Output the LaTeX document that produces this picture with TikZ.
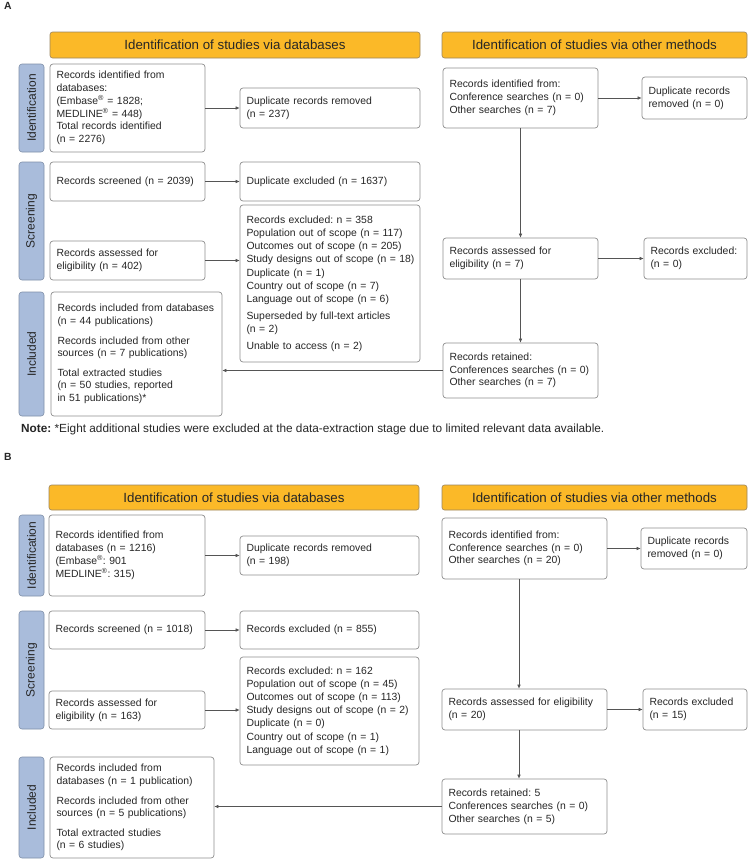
\documentclass[tikz,border=0pt]{standalone}
\usepackage{fontspec}
\setmainfont{Liberation Sans}
\usetikzlibrary{arrows.meta,calc}
\definecolor{hdr}{HTML}{FBB928}
\definecolor{hdrline}{HTML}{9A8460}
\definecolor{tabfill}{HTML}{A9BCDB}
\definecolor{tabline}{HTML}{7F8FA8}
\definecolor{boxline}{HTML}{8E8E8E}
\definecolor{arr}{HTML}{555555}
\definecolor{txt}{HTML}{262626}
\newcommand\pbox[7][]{%
 \pgfmathsetmacro\bw{#5-#3}\pgfmathsetmacro\bh{#6-#4}\pgfmathsetmacro\tw{#5-#3-13}%
 \node[rec,#1,minimum width=\bw pt,minimum height=\bh pt,text width=\tw pt] (#2) at ({(#3+#5)/2},{(#4+#6)/2}) {#7};}
\newcommand\phdr[6]{%
 \pgfmathsetmacro\bw{#4-#2}\pgfmathsetmacro\bh{#5-#3}%
 \node[hdrst,minimum width=\bw pt,minimum height=\bh pt] (#1) at ({(#2+#4)/2},{(#3+#5)/2}) {#6};}
\newcommand\ptab[6]{%
 \pgfmathsetmacro\bw{#4-#2}\pgfmathsetmacro\bh{#5-#3}%
 \node[tabst,rotate=90,minimum width=\bh pt,minimum height=\bw pt] (#1) at ({(#2+#4)/2},{(#3+#5)/2}) {#6};}
\newcommand\reg{\textsuperscript{\textregistered}}
\frenchspacing
\begin{document}
\begin{tikzpicture}[x=1pt,y=-1pt,
  rec/.style={draw=boxline,line width=0.7pt,rounded corners=3pt,fill=white,align=left,inner sep=2pt,text=txt,
    font=\fontsize{10.4}{12.8}\selectfont},
  hdrst/.style={draw=hdrline,line width=0.6pt,rounded corners=2.5pt,fill=hdr,inner sep=0pt,text=txt,
    font=\fontsize{13.3}{15}\selectfont},
  tabst/.style={draw=tabline,line width=0.6pt,rounded corners=3pt,fill=tabfill,inner sep=0pt,text=txt,
    font=\fontsize{12}{14}\selectfont},
  conn/.style={draw=arr,line width=0.6pt},
  arrow/.style={conn,-{Latex[length=4pt,width=3.6pt]}},
  lbl/.style={font=\bfseries\fontsize{10.4}{12}\selectfont,text=txt,inner sep=0pt}]
\useasboundingbox (0,0) rectangle (753,862);
% ---------------- Panel A
\node[lbl] (labA) at (8,6) {A};
\phdr{hAL}{50}{32}{420}{58}{Identification of studies via databases}
\phdr{hAR}{442}{32}{747}{58}{Identification of studies via other methods}
\ptab{tA1}{19}{64}{44}{152}{Identification}
\ptab{tA2}{19}{162}{44}{280}{Screening}
\ptab{tA3}{19}{292}{44}{416}{Included}
\pbox{a1}{50}{64}{205}{152}{Records identified from\\ databases:\\ (Embase\reg{} = 1828;\\ MEDLINE\reg{} = 448)\\ Total records identified\\ (n = 2276)}
\pbox{a2}{240}{88}{420}{128}{Duplicate records removed\\ (n = 237)}
\pbox{a3}{50}{162}{205}{201}{Records screened (n = 2039)}
\pbox{a4}{240}{162}{420}{201}{Duplicate excluded (n = 1637)}
\pbox{a5}{50}{241}{205}{280}{Records assessed for\\ eligibility (n = 402)}
\pbox[font=\fontsize{10.4}{13.2}\selectfont]{a6}{240}{205}{420}{362}{Records excluded: n = 358\\ Population out of scope (n = 117)\\ Outcomes out of scope (n = 205)\\ \mbox{Study designs out of scope (n = 18)}\\ Duplicate (n = 1)\\ Country out of scope (n = 7)\\ Language out of scope (n = 6)\\[3.5pt] Superseded by full-text articles\\ (n = 2)\\[3.5pt] Unable to access (n = 2)}
\pbox[font=\fontsize{10.4}{12.4}\selectfont]{a7}{51}{292}{222}{416}{Records included from databases\\ (n = 44 publications)\\[7.5pt] Records included from other\\ sources (n = 7 publications)\\[7.5pt] Total extracted studies\\ (n = 50 studies, reported\\ in 51 publications)*}
\pbox{r1}{443}{68}{598}{128}{Records identified from:\\ Conference searches (n = 0)\\ Other searches (n = 7)}
\pbox{r2}{642}{77}{747}{119}{Duplicate records\\ removed (n = 0)}
\pbox{r3}{443}{238}{598}{279}{Records assessed for\\ eligibility (n = 7)}
\pbox{r4}{644}{238}{747}{279}{Records excluded:\\ (n = 0)}
\pbox{r5}{443}{343}{598}{398}{Records retained:\\ Conferences searches (n = 0)\\ Other searches (n = 7)}
\draw[arrow] (a1.east) -- (a2.west);
\draw[arrow] (a3.east) -- (a4.west);
\draw[arrow] (a5.east) -- (a5.east -| a6.west);
\draw[arrow] (r1.east) -- (r2.west);
\draw[arrow] (r1.south) -- (r3.north);
\draw[arrow] (r3.east) -- (r4.west);
\draw[arrow] (r3.south) -- (r5.north);
\draw[arrow] (r5.west) -- (r5.west -| a7.east);
\node[anchor=west,inner sep=0pt,text=txt,font=\fontsize{11.8}{13}\selectfont] (note) at (21,429) {\textbf{Note:} *Eight additional studies were excluded at the data-extraction stage due to limited relevant data available.};
% ---------------- Panel B
\node[lbl] (labB) at (8,457) {B};
\phdr{hBL}{49}{485}{419}{510}{Identification of studies via databases}
\phdr{hBR}{442}{485}{747}{510}{Identification of studies via other methods}
\ptab{tB1}{19}{515}{44}{596}{Identification}
\ptab{tB2}{19}{611}{44}{729}{Screening}
\ptab{tB3}{19}{757}{44}{858}{Included}
\pbox{b1}{49}{515}{205}{596}{Records identified from\\ databases (n = 1216)\\ (Embase\reg: 901\\ MEDLINE\reg: 315)}
\pbox{b2}{240}{536}{419}{575}{Duplicate records removed\\ (n = 198)}
\pbox{b3}{49}{611}{205}{649}{Records screened (n = 1018)}
\pbox{b4}{240}{611}{419}{649}{Records excluded (n = 855)}
\pbox{b5}{49}{691}{205}{729}{Records assessed for\\ eligibility (n = 163)}
\pbox[font=\fontsize{10.4}{13.2}\selectfont]{b6}{240}{657}{419}{765}{Records excluded: n = 162\\ Population out of scope (n = 45)\\ Outcomes out of scope (n = 113)\\ Study designs out of scope (n = 2)\\ Duplicate (n = 0)\\ Country out of scope (n = 1)\\ Language out of scope (n = 1)}
\pbox[font=\fontsize{10.4}{12.4}\selectfont]{b7}{50}{757}{214}{858}{Records included from\\ databases (n = 1 publication)\\[7.5pt] Records included from other\\ sources (n = 5 publications)\\[7.5pt] Total extracted studies\\ (n = 6 studies)}
\pbox{s1}{442}{518}{607}{579}{Records identified from:\\ Conference searches (n = 0)\\ Other searches (n = 20)}
\pbox{s2}{641}{528}{747}{569}{Duplicate records\\ removed (n = 0)}
\pbox{s3}{442}{689}{607}{730}{Records assessed for eligibility\\ (n = 20)}
\pbox{s4}{643}{689}{747}{730}{Records excluded\\ (n = 15)}
\pbox{s5}{442}{779}{607}{834}{Records retained: 5\\ Conferences searches (n = 0)\\ Other searches (n = 5)}
\coordinate (sv1) at (519,579);
\coordinate (sv2) at (519,730);
\draw[arrow] (b1.east) -- (b2.west);
\draw[arrow] (b3.east) -- (b4.west);
\draw[arrow] (b5.east) -- (b5.east -| b6.west);
\draw[arrow] (s1.east) -- (s2.west);
\draw[arrow] (sv1) -- (sv1 |- s3.north);
\draw[arrow] (s3.east) -- (s4.west);
\draw[arrow] (sv2) -- (sv2 |- s5.north);
\draw[arrow] (s5.west) -- (s5.west -| b7.east);
\end{tikzpicture}
\end{document}
